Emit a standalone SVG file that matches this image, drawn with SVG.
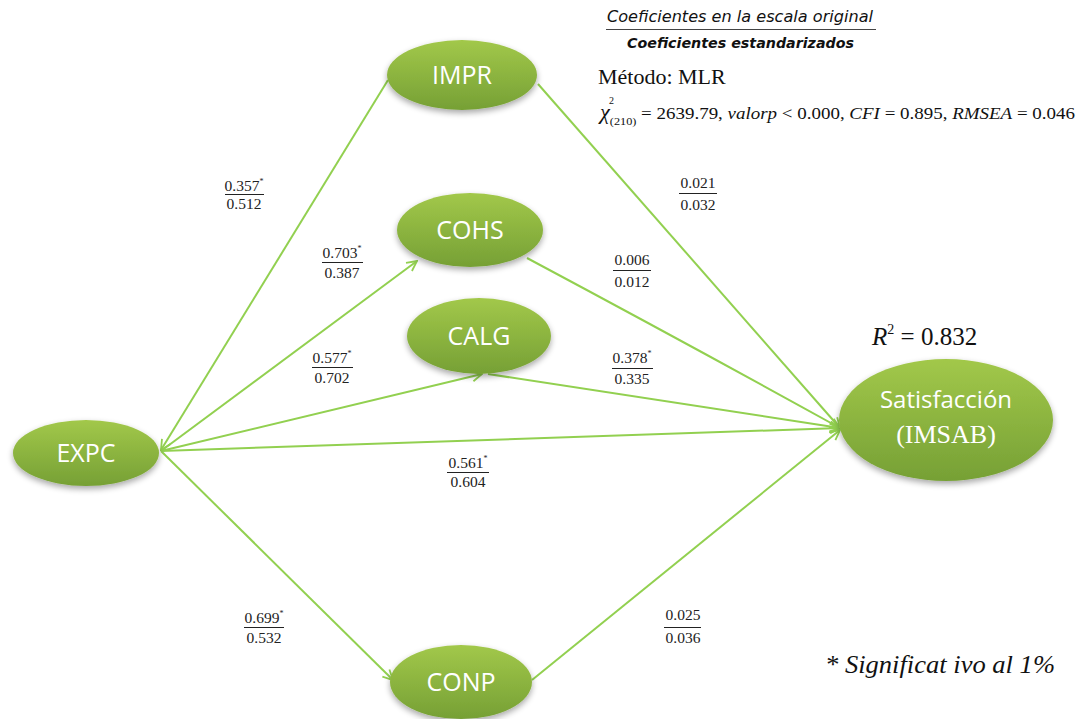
<svg xmlns="http://www.w3.org/2000/svg" width="1080" height="719" viewBox="0 0 1080 719">
<style>
.edge{fill:none;stroke:#92D050;stroke-width:2}
.node{fill:url(#g);filter:url(#sh)}
.nt{font-family:"Open Sans","Noto Sans",sans-serif;font-size:25px;fill:#fff;text-anchor:middle}
.lb{font-family:"Liberation Serif",serif;font-size:15.5px;fill:#222;text-anchor:middle}
.fr{stroke:#222;stroke-width:1}
.sup{font-size:8px}
.ser{font-family:"Liberation Serif",serif}
</style>
<defs>
<linearGradient id="g" x1="0" y1="0" x2="0" y2="1">
<stop offset="0" stop-color="#A2C84A"/>
<stop offset="1" stop-color="#76A035"/>
</linearGradient>
<filter id="sh" x="-20%" y="-20%" width="140%" height="150%">
<feGaussianBlur in="SourceAlpha" stdDeviation="3"/>
<feOffset dy="3" result="b"/>
<feComponentTransfer><feFuncA type="linear" slope="0.35"/></feComponentTransfer>
<feMerge><feMergeNode/><feMergeNode in="SourceGraphic"/></feMerge>
</filter>
<marker id="ar" viewBox="0 0 12 12" refX="11" refY="6" markerWidth="12" markerHeight="12" markerUnits="userSpaceOnUse" orient="auto">
<path d="M1,1 L11,6 L1,11" fill="none" stroke="#92D050" stroke-width="1.8"/>
</marker>
</defs>
<rect width="1080" height="719" fill="#fff"/>
<g id="connectors">
<path class="edge" d="M388,80 L161,450" marker-end="url(#ar)"/>
<path class="edge" d="M161,451 L417,261" marker-end="url(#ar)"/>
<path class="edge" d="M161,451 L482,374" marker-end="url(#ar)"/>
<path class="edge" d="M161,451 L840,428" marker-end="url(#ar)"/>
<path class="edge" d="M161,451 L393,680" marker-end="url(#ar)"/>
<path class="edge" d="M538,84 L840,428" marker-end="url(#ar)"/>
<path class="edge" d="M527,258 Q690,345 840,428" marker-end="url(#ar)"/>
<path class="edge" d="M488,374 L840,428" marker-end="url(#ar)"/>
<path class="edge" d="M532,680 L840,430" marker-end="url(#ar)"/>
</g>
<g id="IMPR"><ellipse class="node" cx="462" cy="75" rx="75" ry="35"/><text class="nt" x="462" y="84">IMPR</text></g>
<g id="COHS"><ellipse class="node" cx="470" cy="230" rx="73" ry="37"/><text class="nt" x="470" y="239">COHS</text></g>
<g id="CALG"><ellipse class="node" cx="479" cy="336" rx="72" ry="38"/><text class="nt" x="479" y="345">CALG</text></g>
<g id="EXPC"><ellipse class="node" cx="86" cy="453" rx="73" ry="33"/><text class="nt" x="86" y="462">EXPC</text></g>
<g id="CONP"><ellipse class="node" cx="461" cy="682" rx="71" ry="37"/><text class="nt" x="461" y="691">CONP</text></g>
<g id="IMSAB"><ellipse class="node" cx="946" cy="420" rx="107" ry="61"/>
<text class="nt" x="946" y="408" style="font-size:24px">Satisfacción</text>
<text class="nt" x="946" y="443" style="font-family:'Liberation Serif',serif;font-size:26px">(IMSAB)</text></g>
<g id="labels">
<text class="lb" x="244" y="191">0.357<tspan class="sup" dy="-7">*</tspan></text><line class="fr" x1="225" y1="194.5" x2="264" y2="194.5"/><text class="lb" x="244" y="209">0.512</text>
<text class="lb" x="342" y="258">0.703<tspan class="sup" dy="-7">*</tspan></text><line class="fr" x1="322" y1="262.5" x2="363" y2="262.5"/><text class="lb" x="342" y="278">0.387</text>
<text class="lb" x="332" y="363">0.577<tspan class="sup" dy="-7">*</tspan></text><line class="fr" x1="312" y1="367.5" x2="353" y2="367.5"/><text class="lb" x="332" y="383">0.702</text>
<text class="lb" x="698" y="188">0.021</text><line class="fr" x1="679" y1="193.5" x2="717" y2="193.5"/><text class="lb" x="698" y="210">0.032</text>
<text class="lb" x="632" y="265">0.006</text><line class="fr" x1="613" y1="270.5" x2="651" y2="270.5"/><text class="lb" x="632" y="287">0.012</text>
<text class="lb" x="632" y="363">0.378<tspan class="sup" dy="-7">*</tspan></text><line class="fr" x1="612" y1="368.5" x2="653" y2="368.5"/><text class="lb" x="632" y="384">0.335</text>
<text class="lb" x="468" y="468">0.561<tspan class="sup" dy="-7">*</tspan></text><line class="fr" x1="447" y1="472.5" x2="489" y2="472.5"/><text class="lb" x="468" y="487">0.604</text>
<text class="lb" x="264" y="623">0.699<tspan class="sup" dy="-7">*</tspan></text><line class="fr" x1="244" y1="627.5" x2="284" y2="627.5"/><text class="lb" x="264" y="643">0.532</text>
<text class="lb" x="683" y="620">0.025</text><line class="fr" x1="664" y1="627.5" x2="701" y2="627.5"/><text class="lb" x="683" y="643">0.036</text>
</g>
<g id="header" fill="#111">
<text x="607" y="22" style="font-family:'DejaVu Sans',sans-serif" font-style="italic" font-size="15" textLength="266" lengthAdjust="spacingAndGlyphs">Coeficientes en la escala original</text>
<line x1="606" y1="29.5" x2="876" y2="29.5" stroke="#444" stroke-width="1.2"/>
<text x="627" y="48" style="font-family:'DejaVu Sans',sans-serif" font-style="italic" font-weight="bold" font-size="14" textLength="227" lengthAdjust="spacingAndGlyphs">Coeficientes estandarizados</text>
<text class="ser" x="598" y="84" font-size="22">Método: MLR</text>
<text class="ser" x="600" y="119" font-size="17" textLength="475" lengthAdjust="spacingAndGlyphs"><tspan font-style="italic" font-size="20">χ</tspan><tspan font-size="11" dy="6">(210)</tspan><tspan dy="-6"> = 2639.79, </tspan><tspan font-style="italic">valorp</tspan> &lt; 0.000, <tspan font-style="italic">CFI</tspan> = 0.895, <tspan font-style="italic">RMSEA</tspan> = 0.046</text>
<text class="ser" x="609" y="104" font-size="10">2</text>
<text class="ser" x="872" y="345" font-size="25"><tspan font-style="italic">R</tspan><tspan font-size="14" dy="-11">2</tspan><tspan dy="11"> = 0.832</tspan></text>
<text class="ser" x="825" y="673" font-size="25" font-style="italic" textLength="230" lengthAdjust="spacingAndGlyphs">* Significat ivo al 1%</text>
</g>
</svg>
